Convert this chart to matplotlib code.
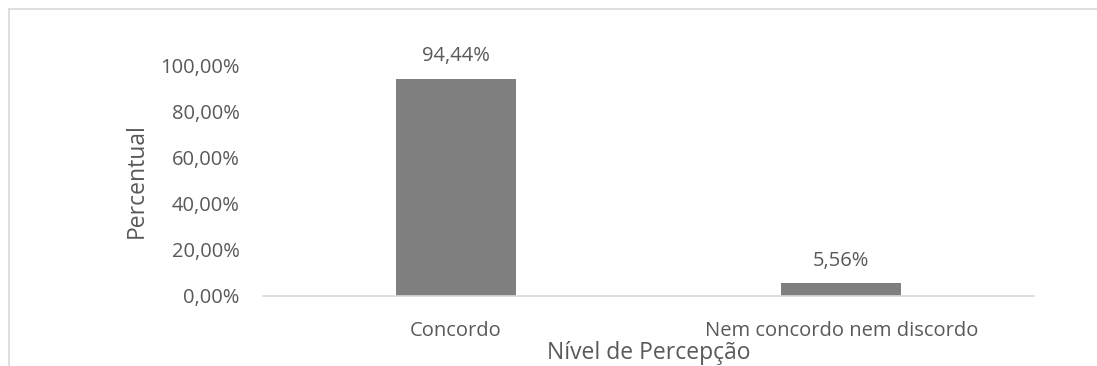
import matplotlib
matplotlib.use("Agg")
import matplotlib.pyplot as plt
from matplotlib.lines import Line2D

categories = ["Concordo", "Nem concordo nem discordo"]
values = [0.9444, 0.0556]
labels = ["94,44%", "5,56%"]
yticks = [0.0, 0.2, 0.4, 0.6, 0.8, 1.0]
ytick_labels = ["0,00%", "20,00%", "40,00%", "60,00%", "80,00%", "100,00%"]

W, H = 1097, 366
fig = plt.figure(figsize=(W/100, H/100), dpi=100)
plt.rcParams['font.family'] = ['Open Sans', 'DejaVu Sans']
txt = '#595959'

# outer border (top and left visible; chart cropped at right/bottom)
top_y = (H - 9) / H
left_x = 9 / W
fig.lines.append(Line2D([left_x, 1.0], [top_y, top_y], transform=fig.transFigure,
                        color='#d9d9d9', linewidth=1.2))
fig.lines.append(Line2D([left_x, left_x], [0.0, top_y], transform=fig.transFigure,
                        color='#d9d9d9', linewidth=1.2))

ax = fig.add_axes([263/W, (H-296)/H, (1034-263)/W, (296-66)/H])
x = range(len(categories))
ax.bar(x, values, width=0.31, color='#7f7f7f')
ax.set_xlim(-0.5, 1.5)
ax.set_ylim(0, 1.0)
ax.set_yticks(yticks)
ax.set_yticklabels(ytick_labels, fontsize=14.5, color=txt)
ax.set_xticks(list(x))
ax.set_xticklabels(categories, fontsize=14.5, color=txt)
ax.tick_params(axis='y', length=0, pad=17)
ax.tick_params(axis='x', length=0, pad=18)
for s in ['top', 'right', 'left']:
    ax.spines[s].set_visible(False)
ax.spines['bottom'].set_color('#d9d9d9')
ax.spines['bottom'].set_linewidth(1.2)
for xi, v, l in zip(x, values, labels):
    ax.annotate(l, (xi, v), xytext=(0, 9), textcoords='offset points',
                ha='center', va='bottom', fontsize=14.5, color=txt)
ax.set_ylabel("Percentual", fontsize=16.5, color=txt, labelpad=8)
ax.set_xlabel("Nível de Percepção", fontsize=16.5, color=txt, labelpad=0)

fig.savefig("out.png", dpi=100)
